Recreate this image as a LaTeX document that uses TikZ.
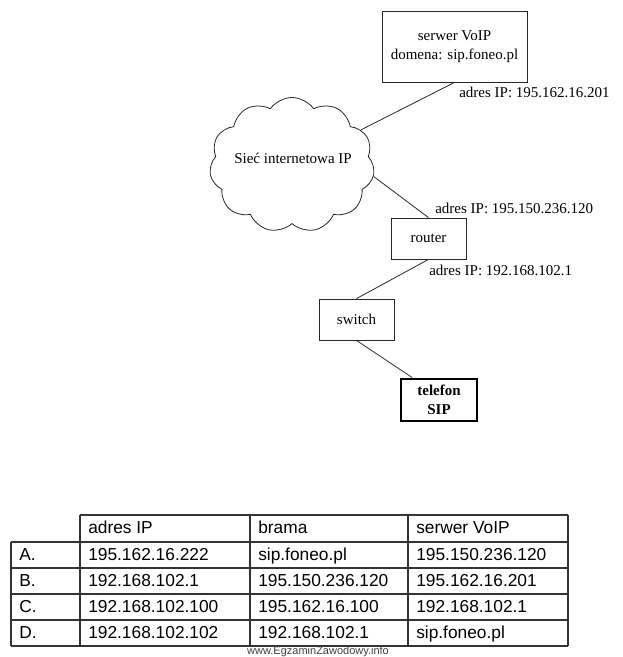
\documentclass[tikz,border=0pt]{standalone}
\usepackage{fontspec}
\setmainfont{Liberation Serif}
\newfontfamily\arialf{Liberation Sans}
\usetikzlibrary{shapes.symbols,calc}
\begin{document}
\begin{tikzpicture}[x=0.75pt,y=-0.75pt,
  box/.style={draw=black!85, line width=0.6pt, inner sep=0pt, align=center,
    font=\fontsize{11.25}{14.25}\selectfont},
  conn/.style={draw=black!85, line width=0.6pt},
  iplabel/.style={anchor=west, inner sep=0pt, font=\fontsize{11.25}{13}\selectfont},
  cell/.style={anchor=base west, inner sep=0pt, font=\arialf\fontsize{13}{15}\selectfont},
  tgrid/.style={line width=0.9pt, draw=black!80},
  wmark/.style={inner sep=0pt, text=black!75, font=\arialf\fontsize{8.25}{9}\selectfont}]
\useasboundingbox (0,0) rectangle (622,657);

% nodes
\node[box, minimum width=108.75pt, minimum height=53.25pt] (server) at (454.5,46.5)
  {serwer VoIP\\domena: sip.foneo.pl};
\node[cloud, draw=black!85, line width=0.6pt, cloud puffs=11, cloud puff arc=110,
  aspect=1.25, minimum width=123.75pt, minimum height=101.25pt, inner sep=0pt] (cloud) at (292,165) {};
\node[inner sep=0pt, font=\fontsize{11.25}{13}\selectfont] (cloudtext) at (293,158) {Sieć internetowa IP};
\node[box, minimum width=56.25pt, minimum height=30.75pt] (router) at (428.5,238.5) {router};
\node[box, minimum width=56.25pt, minimum height=30.75pt] (switch) at (356.5,319.5) {switch};
\node[box, line width=2.2pt, draw=black, minimum width=57pt, minimum height=31.5pt,
  font=\bfseries\fontsize{11.25}{14.25}\selectfont] (tel) at (439,400) {telefon\\SIP};

% connectors
\draw[conn] (server.south) -- (cloud.27);
\draw[conn] (cloud.-8) -- (router.north);
\draw[conn] (router.south) -- (switch.north);
\draw[conn] (switch.south) -- ($(tel.north west)!0.16!(tel.north east)$);

% labels
\node[iplabel] (ip1) at (459,92) {adres IP: 195.162.16.201};
\node[iplabel] (ip2) at (435,208) {adres IP: 195.150.236.120};
\node[iplabel] (ip3) at (429,270) {adres IP: 192.168.102.1};

% table grid
\draw[tgrid] (80,515) -- (568,515);
\foreach \yy in {542,568,594,620,646} \draw[tgrid] (11,\yy) -- (568,\yy);
\draw[tgrid] (11,542) -- (11,646);
\foreach \xx in {80,250,408,568} \draw[tgrid] (\xx,515) -- (\xx,646);

% table text
\node[cell] (h1) at (88,533) {adres IP};
\node[cell] (h2) at (258,533) {brama};
\node[cell] (h3) at (416,533) {serwer VoIP};

\node[cell] (a0) at (19,560) {A.};
\node[cell] (a1) at (88,560) {195.162.16.222};
\node[cell] (a2) at (258,560) {sip.foneo.pl};
\node[cell] (a3) at (416,560) {195.150.236.120};

\node[cell] (b0) at (19,586) {B.};
\node[cell] (b1) at (88,586) {192.168.102.1};
\node[cell] (b2) at (258,586) {195.150.236.120};
\node[cell] (b3) at (416,586) {195.162.16.201};

\node[cell] (c0) at (19,612) {C.};
\node[cell] (c1) at (88,612) {192.168.102.100};
\node[cell] (c2) at (258,612) {195.162.16.100};
\node[cell] (c3) at (416,612) {192.168.102.1};

\node[cell] (d0) at (19,638) {D.};
\node[cell] (d1) at (88,638) {192.168.102.102};
\node[cell] (d2) at (258,638) {192.168.102.1};
\node[cell] (d3) at (416,638) {sip.foneo.pl};

\node[wmark] (wm) at (318,652) {www.EgzaminZawodowy.info};
\end{tikzpicture}
\end{document}
